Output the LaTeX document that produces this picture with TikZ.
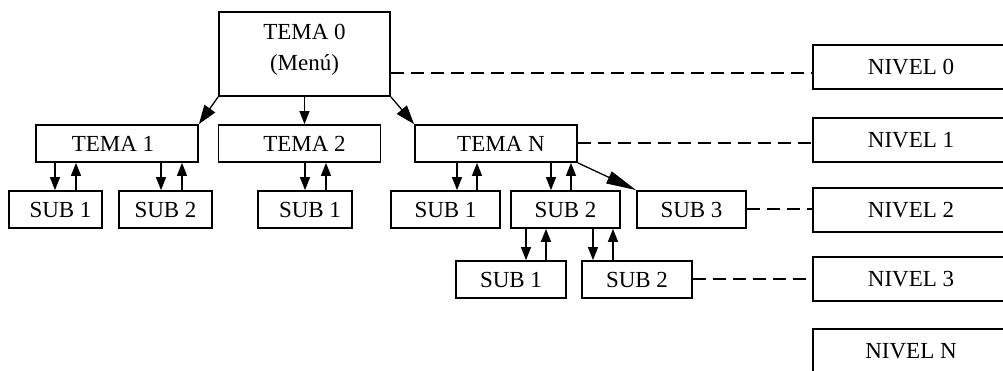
\documentclass[tikz,border=0pt]{standalone}
\usepackage{fontspec}
\setmainfont{Liberation Serif}
\usetikzlibrary{arrows.meta}
\begin{document}
\begin{tikzpicture}[x=1pt,y=-1pt,
  lbl/.style={font=\fontsize{23}{31}\selectfont},
  box/.style={draw, line width=1.8pt, inner sep=0pt, lbl},
  tema/.style={box, minimum width=162pt, minimum height=37pt},
  sub/.style={box, minimum height=37pt},
  nivel/.style={box, minimum width=196pt, minimum height=44pt},
  arr/.style={line width=1.3pt, -{Triangle[length=13pt,width=10pt]}},
  darr/.style={line width=1.3pt, -{Triangle[length=19pt,width=13pt]}},
  larr/.style={line width=1.3pt, -{Triangle[length=30pt,width=13pt]}},
  dsh/.style={line width=1.8pt, dash pattern=on 13pt off 7pt}]
\useasboundingbox (0,0) rectangle (1003,370);
\clip (0,0) rectangle (1003,370);

% level 0
\node[box, minimum width=171pt, minimum height=84pt] (t0) at (304.5,54) {};
\node[lbl, align=center, inner sep=0pt] (t0txt) at (304.5,50) {TEMA 0\\(Menú)};
\node[nivel] (n0) at (911,67) {NIVEL 0};

% level 1
\node[tema] (t1) at (117,143.5) {TEMA 1\hspace*{8pt}};
\node[tema] (t2) at (299.5,143.5) {\hspace*{10pt}TEMA 2};
\node[tema] (tn) at (496,143.5) {\hspace*{10pt}TEMA N};
\node[nivel] (n1) at (911,140) {NIVEL 1};

% level 2
\node[sub, minimum width=93pt] (s11) at (55.5,209.5) {\hspace*{10pt}SUB 1};
\node[sub, minimum width=93pt] (s12) at (165.5,209.5) {SUB 2};
\node[sub, minimum width=94pt] (s21) at (305,209.5) {\hspace*{10pt}SUB 1};
\node[sub, minimum width=109pt] (sn1) at (445.5,209.5) {SUB 1};
\node[sub, minimum width=109pt] (sn2) at (565.5,209.5) {SUB 2};
\node[sub, minimum width=109pt] (sn3) at (691.5,209.5) {SUB 3};
\node[nivel] (n2) at (911,210) {NIVEL 2};

% level 3
\node[sub, minimum width=110pt] (s31) at (511,279.5) {SUB 1};
\node[sub, minimum width=110pt] (s32) at (637,279.5) {SUB 2};
\node[nivel] (n3) at (911,279) {NIVEL 3};

% level N
\node[nivel] (nN) at (911,351) {NIVEL N};

% arrows from TEMA 0
\draw[darr] (t0.south west) -- (t1.north east);
\draw[arr] (t0.south) -- (t0.south |- t2.north);
\draw[darr] (t0.south east) -- (tn.north west);

% TEMA 1
\draw[arr] (t1.south -| 55,0) -- (s11.north -| 55,0);
\draw[arr] (s11.north -| 76,0) -- (t1.south -| 76,0);
\draw[arr] (t1.south -| 161,0) -- (s12.north -| 161,0);
\draw[arr] (s12.north -| 182,0) -- (t1.south -| 182,0);
% TEMA 2
\draw[arr] (t2.south -| 305,0) -- (s21.north -| 305,0);
\draw[arr] (s21.north -| 326,0) -- (t2.south -| 326,0);
% TEMA N
\draw[arr] (tn.south -| 457,0) -- (sn1.north -| 457,0);
\draw[arr] (sn1.north -| 477,0) -- (tn.south -| 477,0);
\draw[arr] (tn.south -| 551,0) -- (sn2.north -| 551,0);
\draw[arr] (sn2.north -| 571,0) -- (tn.south -| 571,0);
\draw[larr] (tn.south east) -- (sn3.north west);
% SUB 2 -> level 3
\draw[arr] (sn2.south -| 526,0) -- (s31.north -| 526,0);
\draw[arr] (s31.north -| 546,0) -- (sn2.south -| 546,0);
\draw[arr] (sn2.south -| 593,0) -- (s32.north -| 593,0);
\draw[arr] (s32.north -| 613,0) -- (sn2.south -| 613,0);

% dashed level links
\draw[dsh] (t0.east |- 0,73) -- (n0.west |- 0,73);
\draw[dsh] (tn.east |- 0,143) -- (n1.west |- 0,143);
\draw[dsh] (sn3.east |- 0,209) -- (n2.west |- 0,209);
\draw[dsh] (s32.east |- 0,279) -- (n3.west |- 0,279);
\end{tikzpicture}
\end{document}
